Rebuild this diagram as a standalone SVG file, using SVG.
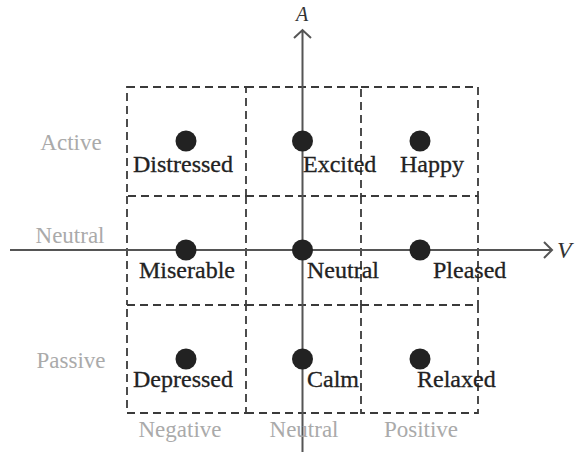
<svg xmlns="http://www.w3.org/2000/svg" width="578" height="452" viewBox="0 0 578 452">
<style>
.grid{fill:none;stroke:#3a3a3a;stroke-width:1.8;stroke-dasharray:8 5}
.axis{stroke:#555;stroke-width:2;fill:none}
.dot{fill:#222}
.lbl{font-family:"Liberation Serif",serif;font-size:24px;fill:#222;stroke:#222;stroke-width:0.3}
.side{font-family:"Liberation Serif",serif;font-size:23px;fill:#aaa}
.ax{font-family:"Liberation Serif",serif;font-style:italic;fill:#333}
</style>
<rect width="578" height="452" fill="#fff"/>
<g id="grid">
<rect class="grid" x="127" y="87" width="119" height="109"/>
<rect class="grid" x="361" y="87" width="117" height="109"/>
<rect class="grid" x="127" y="305" width="119" height="108"/>
<rect class="grid" x="361" y="305" width="117" height="108"/>
<path class="grid" d="M246 87H361M246 196H361M246 305H361M246 413H361M127 196V305M246 196V305M361 196V305M478 196V305"/>
</g>
<g id="connectors">
<path class="axis" d="M302.5 452V31M294 38L302.5 30L311 38"/>
<path class="axis" d="M10 250H552M544 242L552 250L544 258"/>
</g>
<text class="ax" x="302" y="21" font-size="20" text-anchor="middle">A</text>
<text class="ax" x="557" y="258" font-size="24">V</text>
<g id="side-labels">
<text class="side" x="71" y="150" text-anchor="middle">Active</text>
<text class="side" x="70" y="243" text-anchor="middle">Neutral</text>
<text class="side" x="71" y="368" text-anchor="middle">Passive</text>
<text class="side" x="180" y="437" text-anchor="middle">Negative</text>
<text class="side" x="304" y="437" text-anchor="middle">Neutral</text>
<text class="side" x="421" y="437" text-anchor="middle">Positive</text>
</g>
<g id="distressed"><circle class="dot" cx="186" cy="141" r="10.5"/><text class="lbl" x="183" y="172" text-anchor="middle">Distressed</text></g>
<g id="excited"><circle class="dot" cx="302.5" cy="141" r="10.5"/><text class="lbl" x="303" y="172">Excited</text></g>
<g id="happy"><circle class="dot" cx="420" cy="141" r="10.5"/><text class="lbl" x="432" y="172" text-anchor="middle">Happy</text></g>
<g id="miserable"><circle class="dot" cx="186" cy="250" r="10.5"/><text class="lbl" x="187" y="278" text-anchor="middle">Miserable</text></g>
<g id="neutral"><circle class="dot" cx="302.5" cy="250" r="10.5"/><text class="lbl" x="307" y="278">Neutral</text></g>
<g id="pleased"><circle class="dot" cx="420" cy="250" r="10.5"/><text class="lbl" x="433" y="278">Pleased</text></g>
<g id="depressed"><circle class="dot" cx="186" cy="359" r="10.5"/><text class="lbl" x="183" y="387" text-anchor="middle">Depressed</text></g>
<g id="calm"><circle class="dot" cx="302.5" cy="359" r="10.5"/><text class="lbl" x="307" y="387">Calm</text></g>
<g id="relaxed"><circle class="dot" cx="420" cy="359" r="10.5"/><text class="lbl" x="417" y="387">Relaxed</text></g>
</svg>
